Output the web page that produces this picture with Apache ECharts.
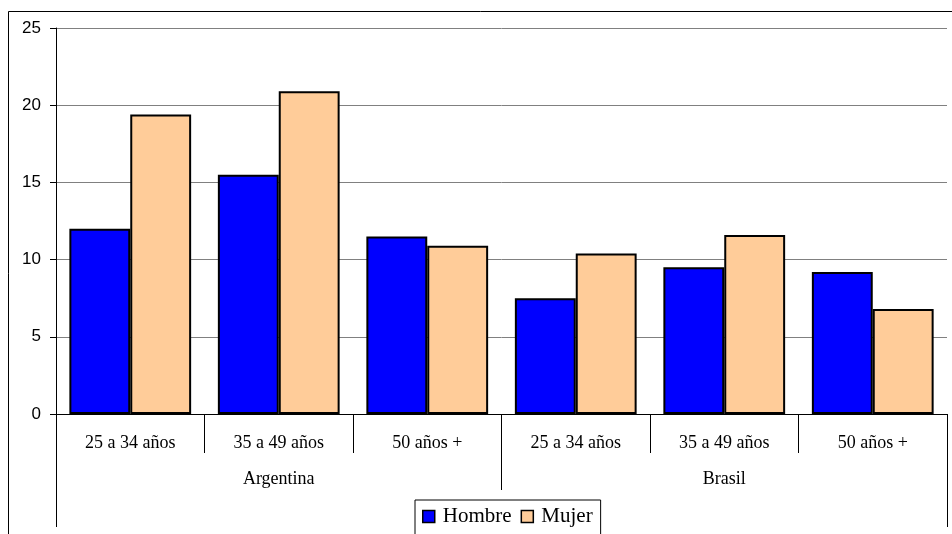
<!DOCTYPE html>
<html>
<head>
<meta charset="utf-8">
<script src="https://cdn.jsdelivr.net/npm/echarts@6/dist/echarts.min.js"></script>
<style>
html,body{margin:0;padding:0;background:#fff;}
#chart{width:952px;height:534px;}
</style>
</head>
<body>
<div id="chart"></div>
<script>
const categories = ['25 a 34 años','35 a 49 años','50 años +','25 a 34 años','35 a 49 años','50 años +'];
const groups = ['Argentina','Brasil'];
const hombre = [12.0, 15.5, 11.5, 7.5, 9.5, 9.2];
const mujer = [19.4, 20.9, 10.9, 10.4, 11.6, 6.8];
const seriesNames = ['Hombre','Mujer'];
const yTicks = {min:0, max:25, interval:5};

const chart = echarts.init(document.getElementById('chart'), null, {renderer:'canvas'});
const serif = '"Liberation Serif", "Times New Roman", serif';
const sans = '"Liberation Sans", Arial, sans-serif';
chart.setOption({
  animation:false,
  backgroundColor:'#fff',
  grid:{left:56, right:5, top:28, bottom:120, containLabel:false},
  graphic:[{type:'rect', silent:true, shape:{x:8.5, y:11.5, width:1000, height:600}, style:{fill:'none', stroke:'#000', lineWidth:1}}],
  legend:{
    data:seriesNames, left:415, top:500, icon:'rect',
    padding:[6,8,14,7], itemGap:9, itemWidth:12, itemHeight:12,
    borderColor:'#000', borderWidth:1, backgroundColor:'#fff',
    itemStyle:{borderColor:'#000', borderWidth:1.5},
    textStyle:{fontFamily:serif, fontSize:21, color:'#000', padding:[0,0,0,3]}
  },
  xAxis:[
    {type:'category', data:categories, position:'bottom',
     axisLine:{show:true, lineStyle:{color:'#000', width:1}},
     axisTick:{show:true, interval:0, length:39, lineStyle:{color:'#000'}},
     axisLabel:{interval:0, margin:20, fontFamily:serif, fontSize:18, color:'#000'},
     splitLine:{show:false}},
    {type:'category', data:groups, position:'bottom', offset:0,
     axisLine:{show:false},
     axisTick:{show:true, interval:0, length:76, lineStyle:{color:'#000'}},
     axisLabel:{interval:0, margin:56, fontFamily:serif, fontSize:18, color:'#000'},
     splitLine:{show:false}},
    {type:'category', data:[''], position:'bottom', offset:0,
     axisLine:{show:false},
     axisTick:{show:true, length:113, lineStyle:{color:'#000'}},
     axisLabel:{show:false}, splitLine:{show:false}}
  ],
  yAxis:{
    type:'value', min:yTicks.min, max:yTicks.max, interval:yTicks.interval,
    axisLine:{show:true, lineStyle:{color:'#000'}},
    axisTick:{show:true, length:6, lineStyle:{color:'#000'}},
    axisLabel:{margin:15, fontFamily:sans, fontSize:17, color:'#000'},
    splitLine:{show:true, lineStyle:{color:'#808080', width:1}}
  },
  series:[
    {name:seriesNames[0], type:'bar', data:hombre, xAxisIndex:0, barGap:'0%', barCategoryGap:'18%',
     itemStyle:{color:'#0000FF', borderColor:'#000', borderWidth:2}},
    {name:seriesNames[1], type:'bar', data:mujer, xAxisIndex:0, barGap:'0%', barCategoryGap:'18%',
     itemStyle:{color:'#FFCC99', borderColor:'#000', borderWidth:2}}
  ]
});
</script>
</body>
</html>
